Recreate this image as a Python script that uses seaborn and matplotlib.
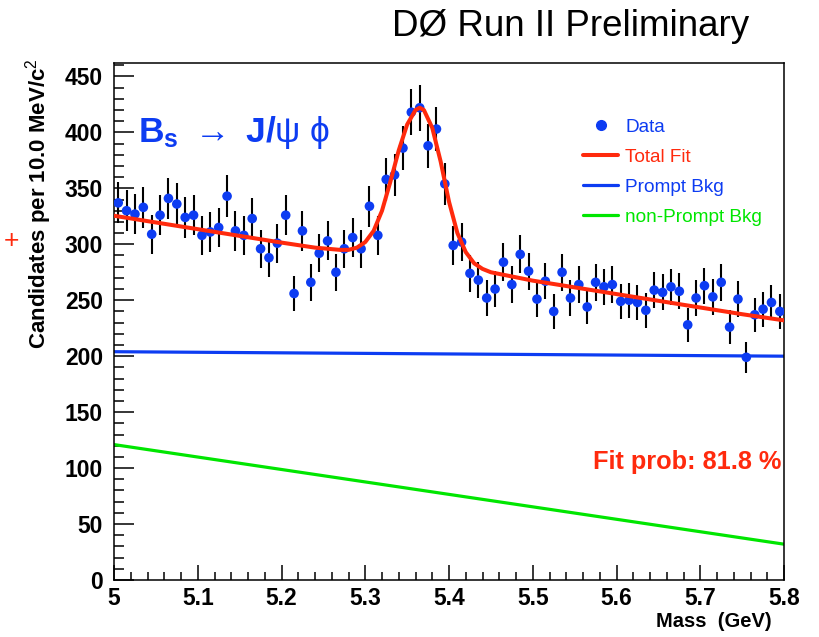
import numpy as np
import pandas as pd
import matplotlib
matplotlib.use("Agg")
import matplotlib.pyplot as plt
import seaborn as sns
from matplotlib.ticker import MultipleLocator
from matplotlib.lines import Line2D

# ---------------- data ----------------
bin_width = 0.01
mass_bins = np.round(5.0 + bin_width / 2 + bin_width * np.arange(80), 4)
counts = [337, 330, 327, 333, 309, 326, 341, 336, 324, 326,
          308, 311, 315, 343, 312, 308, 323, 296, 288, 301,
          326, 256, 312, 266, 292, 303, 275, 296, 306, 296,
          334, 308, 358, 362, 386, 418, 422, 388, 403, 354,
          299, 302, 274, 268, 252, 260, 284, 264, 291, 276,
          251, 267, 240, 275, 252, 264, 244, 266, 262, 264,
          249, 250, 248, 241, 259, 257, 262, 258, 228, 252,
          263, 253, 266, 226, 251, 199, 237, 242, 248, 240]
errors = np.sqrt(counts)

fit_mass = [5.00, 5.05, 5.10, 5.15, 5.20, 5.24, 5.27, 5.28, 5.29, 5.30,
            5.31, 5.32, 5.33, 5.34, 5.35, 5.36, 5.365, 5.37, 5.38, 5.39,
            5.40, 5.41, 5.42, 5.43, 5.44, 5.45, 5.48, 5.50, 5.55, 5.60,
            5.65, 5.70, 5.75, 5.80]
fit_total = [325.5, 319.5, 313.5, 307.5, 301.5, 297, 295, 295, 297, 302,
             312, 330, 356, 384, 407, 420, 422, 420, 404, 374,
             338, 310, 293, 283, 278, 275, 270.5, 267.5, 261.5, 255.5,
             249.5, 243.5, 237.5, 232]

bkg_mass = [5.0, 5.8]
prompt_bkg = [204, 200]
nonprompt_bkg = [121, 32]

xticks = [5.0, 5.1, 5.2, 5.3, 5.4, 5.5, 5.6, 5.7, 5.8]
xtick_labels = ["5", "5.1", "5.2", "5.3", "5.4", "5.5", "5.6", "5.7", "5.8"]
yticks = [0, 50, 100, 150, 200, 250, 300, 350, 400, 450]
ytick_labels = [str(v) for v in yticks]

legend_labels = ["Data", "Total Fit", "Prompt Bkg", "non-Prompt Bkg"]

# ---------------- style ----------------
sns.set_style("ticks")
plt.rcParams['font.family'] = ['Liberation Sans', 'DejaVu Sans']
plt.rcParams['text.color'] = 'black'
plt.rcParams['axes.labelcolor'] = 'black'
plt.rcParams['xtick.color'] = 'black'
plt.rcParams['ytick.color'] = 'black'
plt.rcParams['mathtext.fontset'] = 'custom'
plt.rcParams['mathtext.rm'] = 'Liberation Sans'
plt.rcParams['mathtext.bf'] = 'Liberation Sans:bold'
plt.rcParams['mathtext.it'] = 'Liberation Sans:italic'

BLUE = "#0d3cf2"
RED = "#ff2a0d"
GREEN = "#00e600"

fig = plt.figure(figsize=(8.19, 6.37), dpi=100)
ax = fig.add_axes([0.1392, 0.0895, 0.8181, 0.8116])

df_fit = pd.DataFrame({"mass": fit_mass, "val": fit_total})
df_p = pd.DataFrame({"mass": bkg_mass, "val": prompt_bkg})
df_np = pd.DataFrame({"mass": bkg_mass, "val": nonprompt_bkg})
df_data = pd.DataFrame({"mass": mass_bins, "n": counts, "err": errors})

sns.lineplot(data=df_np, x="mass", y="val", ax=ax, color=GREEN, lw=2.3,
             estimator=None, sort=False, zorder=2)
sns.lineplot(data=df_p, x="mass", y="val", ax=ax, color=BLUE, lw=2.3,
             estimator=None, sort=False, zorder=2)
ax.errorbar(df_data["mass"], df_data["n"], yerr=df_data["err"], fmt="none",
            ecolor="black", elinewidth=1.5, capsize=0, zorder=3)
sns.scatterplot(data=df_data, x="mass", y="n", ax=ax, color=BLUE, s=48,
                edgecolor="none", linewidth=0, zorder=4)
sns.lineplot(data=df_fit, x="mass", y="val", ax=ax, color=RED, lw=2.9,
             estimator=None, sort=False, zorder=5)

ax.set_xlim(5.0, 5.8)
ax.set_ylim(0, 462)
ax.set_xticks(xticks)
ax.set_xticklabels(xtick_labels, fontweight="bold", fontsize=16.5, color="black")
ax.set_yticks(yticks)
ax.set_yticklabels(ytick_labels, fontweight="bold", fontsize=16.5, color="black")
ax.xaxis.set_minor_locator(MultipleLocator(0.02))
ax.yaxis.set_minor_locator(MultipleLocator(10))
ax.tick_params(axis="y", which="major", direction="in", length=14.4, width=1.1, pad=8)
ax.tick_params(axis="y", which="minor", direction="in", length=7.2, width=1.1)
ax.tick_params(axis="x", which="major", direction="in", length=11, width=1.1, pad=5)
ax.tick_params(axis="x", which="minor", direction="in", length=6, width=1.1)
ax.tick_params(top=False, right=False, which="both", colors="black")
for sp in ax.spines.values():
    sp.set_linewidth(1.1)
    sp.set_color("black")

ax.set_ylabel("Candidates per 10.0 MeV/c$^2$", fontsize=16, fontweight="bold",
              loc="top", color="black")
ax.yaxis.set_label_coords(-0.089, 1.01)
ax.set_xlabel("Mass  (GeV)", fontsize=14.5, fontweight="bold", loc="right",
              color="black")
ax.xaxis.set_label_coords(0.982, -0.062)

# legend
handles = [
    Line2D([], [], marker="o", linestyle="none", color=BLUE, markersize=7),
    Line2D([], [], color=RED, lw=2.9),
    Line2D([], [], color=BLUE, lw=2.3),
    Line2D([], [], color=GREEN, lw=2.3),
]
leg = ax.legend(handles, legend_labels, loc="upper left",
                bbox_to_anchor=(0.700, 0.892), frameon=False, fontsize=13.7,
                handlelength=1.85, handletextpad=0.38, labelspacing=0.66,
                borderpad=0, borderaxespad=0,
                labelcolor=[BLUE, RED, BLUE, GREEN])

ax.text(0.036, 0.865, r"$\mathbf{B_s}$ $\rightarrow$ $\mathbf{J/}$ψ ϕ",
        transform=ax.transAxes, color=BLUE, fontsize=25.5,
        va="center", ha="left", family=["Liberation Sans", "DejaVu Sans"])
ax.text(0.9955, 0.228, "Fit prob: 81.8 %", transform=ax.transAxes, color=RED,
        fontsize=18.3, fontweight="bold", ha="right", va="center")

fig.text(0.479, 0.958, "DØ Run II Preliminary", fontsize=26.5, ha="left",
         va="center", color="black")
fig.text(4 / 819, 1 - 241 / 637, "+", fontsize=19, color=RED, ha="left",
         va="center")

fig.savefig("out.png", dpi=100)
